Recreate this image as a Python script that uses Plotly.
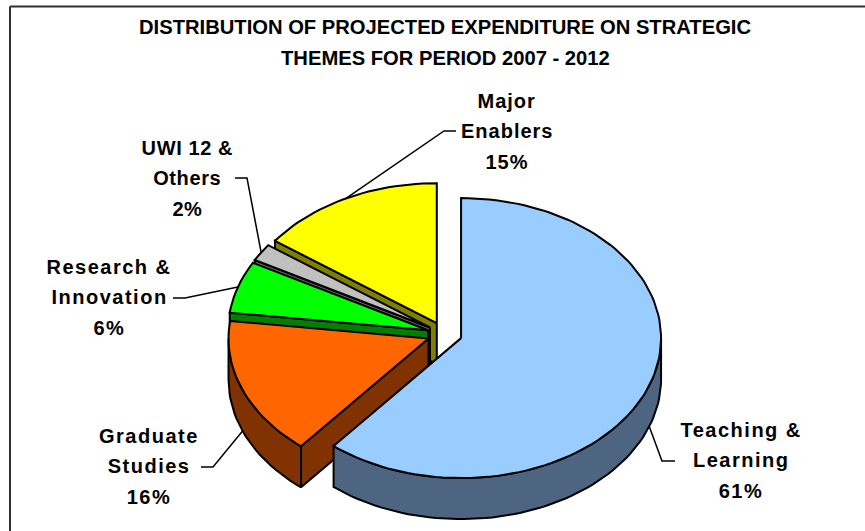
import json
import math
import plotly.graph_objects as go

# Share of projected expenditure per strategic theme, clockwise from 12 o'clock
themes = [["Teaching &", "Learning"], ["Graduate", "Studies"], ["Research &", "Innovation"],
          ["UWI 12 &", "Others"], ["Major", "Enablers"]]
shares = [61, 16, 6, 2, 15]
top_colours = ["#99CCFF", "#FF6600", "#00FF00", "#C0C0C0", "#FFFF00"]
wall_colours = ["#4D6580", "#803300", "#008000", "#606060", "#808000"]

title_lines = ["DISTRIBUTION OF PROJECTED EXPENDITURE ON STRATEGIC",
               "THEMES FOR PERIOD 2007 - 2012"]

# Pie projection, in page pixels
CX, CY = 444.7, 334.0
RX, RY = 200.0, 140.0
DEPTH = 41.0
EXPLODE = 17.4
EDGE = 2.0

# Label placement: centre x, y of the middle line, tracking in px
label_x = [741, 149, 109, 187, 507]
label_y = [460, 466, 297, 178, 131]
label_tracking = [1.5, 1.5, 1.5, 0.6, 1.0]
LINE_STEP = 30.5

# Leader lines: elbow and label-side end, and whether they start on the lower rim
leader_elbow = [(662, 461), (213, 467), (185, 298), (247, 178), (444, 131)]
leader_end = [(675, 461), (201, 467), (173, 298), (235, 178), (456, 131)]
leader_drop = [DEPTH, DEPTH, 0, 0, 0]


def rim(ax, ay, deg):
    t = math.radians(deg)
    return ax + RX * math.sin(t), ay - RY * math.cos(t)


def arc(ax, ay, a0, a1, step=2.0):
    n = max(2, int(abs(a1 - a0) / step) + 1)
    return [rim(ax, ay, a0 + (a1 - a0) * i / (n - 1)) for i in range(n)]


def polygon(points, fill):
    xs = [p[0] for p in points] + [points[0][0]]
    ys = [p[1] for p in points] + [points[0][1]]
    return go.Scatter(x=xs, y=ys, mode="lines", fill="toself", fillcolor=fill,
                      line=dict(color="#000000", width=EDGE),
                      hoverinfo="skip", showlegend=False)


fig = go.Figure()

# Slice angles and exploded apexes
spans, apexes = [], []
acc = 0.0
for s in shares:
    a0, a1 = acc * 3.6, (acc + s) * 3.6
    mid = math.radians((a0 + a1) / 2)
    spans.append((a0, a1))
    apexes.append((CX + EXPLODE * math.sin(mid), CY - EXPLODE * RY / RX * math.cos(mid)))
    acc += s

# Back slices first so the nearer ones overlap them
for i in reversed(range(len(shares))):
    a0, a1 = spans[i]
    ax, ay = apexes[i]
    if math.sin(math.radians(a0)) < -1e-6:
        p = rim(ax, ay, a0)
        fig.add_trace(polygon([(ax, ay), p, (p[0], p[1] + DEPTH), (ax, ay + DEPTH)], wall_colours[i]))
    lo, hi = max(a0, 90), min(a1, 270)
    if lo < hi:
        edge = arc(ax, ay, lo, hi)
        fig.add_trace(polygon(edge + [(x, y + DEPTH) for x, y in reversed(edge)], wall_colours[i]))
    fig.add_trace(polygon([(ax, ay)] + arc(ax, ay, a0, a1), top_colours[i]))

# Leader lines from the middle of each slice's rim to its label
for i in range(len(shares)):
    x0, y0 = rim(*apexes[i], sum(spans[i]) / 2)
    y0 += leader_drop[i]
    fig.add_trace(go.Scatter(x=[x0, leader_elbow[i][0], leader_end[i][0]],
                             y=[y0, leader_elbow[i][1], leader_end[i][1]],
                             mode="lines", line=dict(color="#000000", width=1.5),
                             hoverinfo="skip", showlegend=False))


def text_line(x, y, text, size):
    return dict(x=x, y=y, text=f"<b>{text}</b>", showarrow=False, xanchor="center", yanchor="middle",
                font=dict(family="Liberation Sans", size=size, color="#000000"))


annotations = [text_line(445, 27, title_lines[0], 20.2), text_line(445, 58, title_lines[1], 20.2)]
tracking = {}
for name, s, x, y, track in zip(themes, shares, label_x, label_y, label_tracking):
    for k, line in enumerate(name + [f"{s}%"]):
        annotations.append(text_line(x, y + (k - 1) * LINE_STEP, line, 20))
        tracking[line] = track

fig.update_layout(
    width=865, height=531, autosize=False,
    margin=dict(l=0, r=0, t=0, b=0),
    paper_bgcolor="#FFFFFF", plot_bgcolor="#FFFFFF",
    xaxis=dict(range=[0, 865], visible=False, fixedrange=True),
    yaxis=dict(range=[531, 0], visible=False, fixedrange=True),
    annotations=annotations,
    shapes=[
        dict(type="line", xref="x", yref="y", x0=10, y0=6.5, x1=865, y1=6.5,
             line=dict(color="#303030", width=2)),
        dict(type="line", xref="x", yref="y", x0=10, y0=6.5, x1=10, y1=531,
             line=dict(color="#303030", width=2)),
    ],
)

# Widen the label text by per-label tracking once the annotations are in the page
spacing_js = """
var tracking = %s;
document.querySelectorAll('.annotation-text').forEach(function (t) {
  var v = tracking[t.textContent];
  if (v) { t.style.letterSpacing = v + 'px'; }
});
""" % json.dumps(tracking)

fig.write_html("out.html", config={"displayModeBar": False}, post_script=spacing_js)
